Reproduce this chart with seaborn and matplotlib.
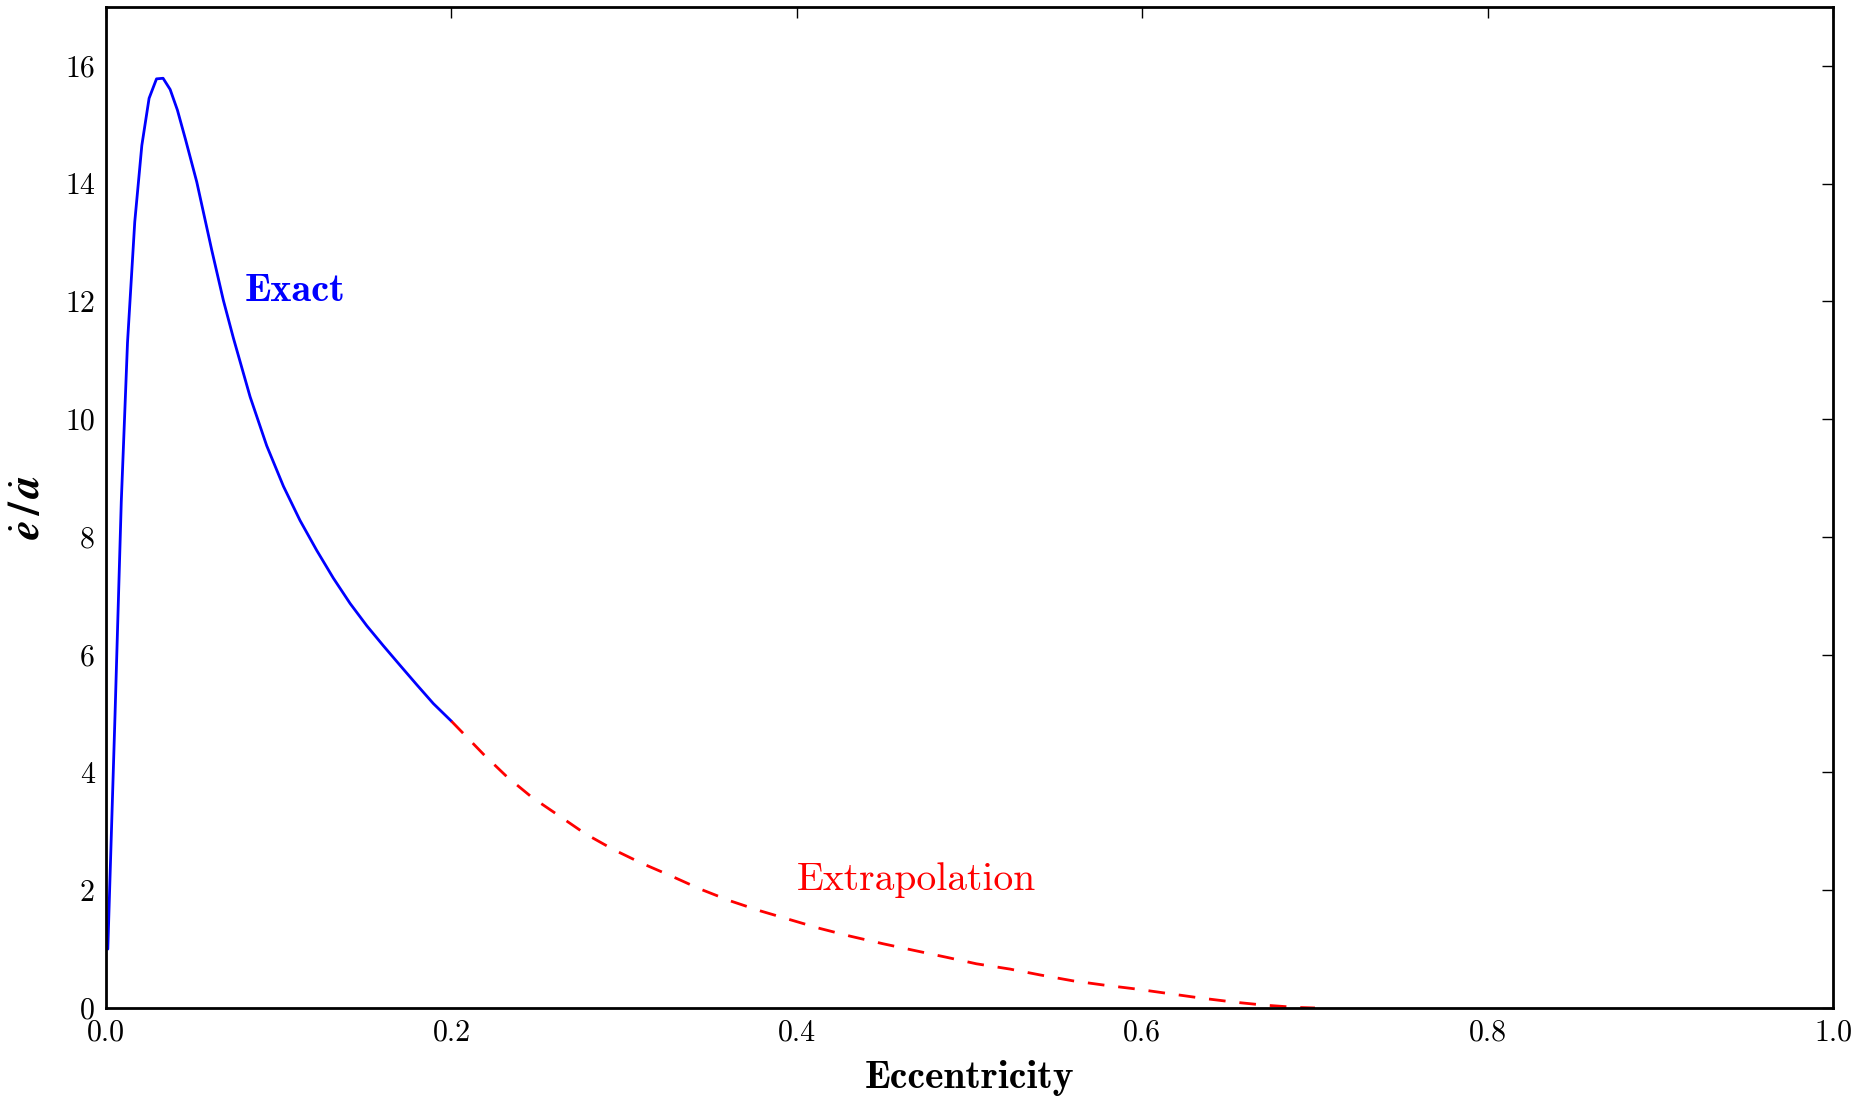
import matplotlib
matplotlib.use("Agg")
import matplotlib.pyplot as plt
import seaborn as sns
import pandas as pd

# ---- data ----
exact_e = [0.001, 0.0052, 0.0088, 0.0124, 0.0166, 0.0207, 0.0249, 0.0292, 0.0330,
           0.0371, 0.0413, 0.0460, 0.0525, 0.0612, 0.0679, 0.0737, 0.0834, 0.0930,
           0.1027, 0.1123, 0.1220, 0.1316, 0.1413, 0.1510, 0.1606, 0.1702, 0.1799,
           0.1895, 0.2000]
exact_y = [1.0, 5.0, 8.6, 11.3, 13.35, 14.65, 15.45, 15.78, 15.79,
           15.6, 15.25, 14.75, 14.03, 12.87, 12.02, 11.38, 10.38, 9.55,
           8.86, 8.28, 7.77, 7.30, 6.87, 6.49, 6.15, 5.82, 5.49,
           5.17, 4.87]

extrap_e = [0.200, 0.2185, 0.232, 0.2465, 0.262, 0.2774, 0.2938, 0.310, 0.3266,
            0.344, 0.3613, 0.3787, 0.396, 0.4134, 0.4308, 0.450, 0.4675, 0.4868,
            0.504, 0.5235, 0.541, 0.560, 0.5775, 0.597, 0.614, 0.6335, 0.653,
            0.670, 0.689, 0.700]
extrap_y = [4.87, 4.31, 3.93, 3.58, 3.27, 2.96, 2.69, 2.46, 2.25,
            2.02, 1.82, 1.65, 1.50, 1.35, 1.22, 1.09, 0.98, 0.86,
            0.75, 0.66, 0.56, 0.46, 0.39, 0.32, 0.25, 0.17, 0.10,
            0.05, 0.01, 0.0]

x_ticks = [0.0, 0.2, 0.4, 0.6, 0.8, 1.0]
y_ticks = [0, 2, 4, 6, 8, 10, 12, 14, 16]
x_label = "Eccentricity"
y_label = r"$\dot{\mathbfit{e}}\,\mathbf{/}\,\dot{\mathbfit{a}}$"
label_exact = "Exact"
label_extrap = "Extrapolation"

# ---- style ----
sns.set_theme(style="white")
plt.rcParams["font.family"] = ["cmr10"]
plt.rcParams["mathtext.fontset"] = "cm"
plt.rcParams["axes.formatter.use_mathtext"] = True
plt.rcParams["lines.scale_dashes"] = False
plt.rcParams["text.color"] = "black"
plt.rcParams["axes.labelcolor"] = "black"

df_exact = pd.DataFrame({"e": exact_e, "r": exact_y})
df_extrap = pd.DataFrame({"e": extrap_e, "r": extrap_y})

fig = plt.figure(figsize=(18.71, 10.98), dpi=100)
ax = fig.add_axes([0.0567, 0.082, 0.9230, 0.9116])

sns.lineplot(data=df_exact, x="e", y="r", ax=ax, color="blue", linewidth=2.0,
             sort=False, estimator=None)
sns.lineplot(data=df_extrap, x="e", y="r", ax=ax, color="red", linewidth=2.0,
             sort=False, estimator=None)
ax.lines[-1].set_dashes((12, 10))

ax.set_xlim(0, 1.0)
ax.set_ylim(0, 17)
ax.set_xticks(x_ticks)
ax.set_yticks(y_ticks)
ax.set_xticklabels([f"{v:.1f}" for v in x_ticks])
ax.set_yticklabels([f"{v:d}" for v in y_ticks])

ax.tick_params(direction="in", length=8, width=1.0, top=True, right=True,
               labelsize=21.5, pad=8, colors="black")
for s in ax.spines.values():
    s.set_visible(True)
    s.set_linewidth(2.0)
    s.set_color("black")
ax.grid(False)

ax.set_xlabel(x_label, family="cmb10", fontsize=28.5, labelpad=10, color="black")
ax.set_ylabel(y_label, fontsize=32, labelpad=12, color="black",
              math_fontfamily="stix")

ax.text(0.08, 12.0, label_exact, color="blue", family="cmb10", fontsize=29,
        va="baseline", ha="left")
ax.text(0.40, 2.0, label_extrap, color="red", family="cmr10", fontsize=28.5,
        va="baseline", ha="left")

fig.savefig("out.png", dpi=100, facecolor="white")
